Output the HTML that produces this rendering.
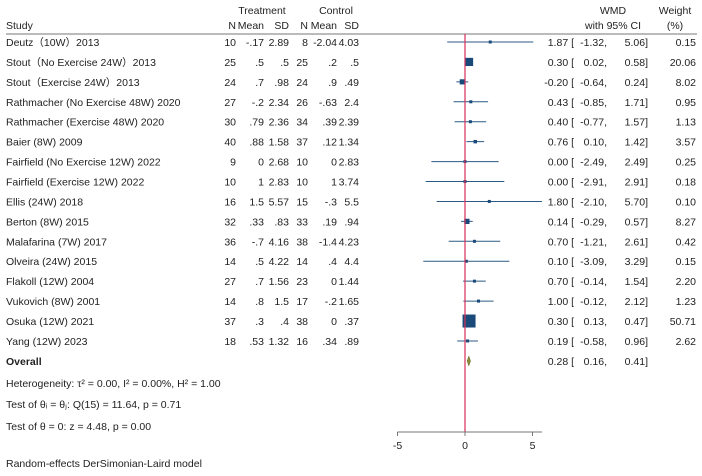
<!DOCTYPE html>
<html><head><meta charset="utf-8"><style>
body{margin:0;background:#fff;}
svg text{font-family:"Liberation Sans","Noto Sans CJK SC",sans-serif;font-size:10.5px;fill:#222;}
</style></head><body>
<svg id="plot" width="702" height="471" xmlns="http://www.w3.org/2000/svg">
<g>
<text x="262" y="14" text-anchor="middle">Treatment</text>
<text x="336" y="14" text-anchor="middle">Control</text>
<text x="6" y="29">Study</text>
<text x="236" y="29" text-anchor="end">N</text>
<text x="264" y="29" text-anchor="end">Mean</text>
<text x="289" y="29" text-anchor="end">SD</text>
<text x="308" y="29" text-anchor="end">N</text>
<text x="337" y="29" text-anchor="end">Mean</text>
<text x="359" y="29" text-anchor="end">SD</text>
<text x="613" y="14" text-anchor="middle">WMD</text>
<text x="613" y="29" text-anchor="middle">with 95% CI</text>
<text x="675" y="14" text-anchor="middle">Weight</text>
<text x="675" y="29" text-anchor="middle">(%)</text>
<line x1="6" y1="34" x2="697" y2="34" stroke="#777" stroke-width="1"/>
</g>
<g id="rows"></g>
<g>
<text x="6" y="365" style="font-weight:bold">Overall</text>
<text x="6" y="387">Heterogeneity: τ² = 0.00, I² = 0.00%, H² = 1.00</text>
<text x="6" y="408">Test of θᵢ = θⱼ: Q(15) = 11.64, p = 0.71</text>
<text x="6" y="430">Test of θ = 0: z = 4.48, p = 0.00</text>
<text x="6" y="467">Random-effects DerSimonian-Laird model</text>
</g>
</svg>
<script>
const studies=["Deutz（10W）2013","Stout（No Exercise 24W）2013","Stout（Exercise 24W）2013","Rathmacher (No Exercise 48W) 2020","Rathmacher (Exercise 48W) 2020","Baier (8W) 2009","Fairfield (No Exercise 12W) 2022","Fairfield (Exercise 12W) 2022","Ellis (24W) 2018","Berton (8W) 2015","Malafarina (7W) 2017","Olveira (24W) 2015","Flakoll (12W) 2004","Vukovich (8W) 2001","Osuka (12W) 2021","Yang (12W) 2023"];
const tN=["10","25","24","27","30","40","9","10","16","32","36","14","27","14","37","18"];
const tMean=["-.17",".5",".7","-.2",".79",".88","0","1","1.5",".33","-.7",".5",".7",".8",".3",".53"];
const tSD=["2.89",".5",".98","2.34","2.36","1.58","2.68","2.83","5.57",".83","4.16","4.22","1.56","1.5",".4","1.32"];
const cN=["8","25","24","26","34","37","10","10","15","33","38","14","23","17","38","16"];
const cMean=["-2.04",".2",".9","-.63",".39",".12","0","1","-.3",".19","-1.4",".4","0","-.2","0",".34"];
const cSD=["4.03",".5",".49","2.4","2.39","1.34","2.83","3.74","5.5",".94","4.23","4.4","1.44","1.65",".37",".89"];
const wmd=[1.87,0.30,-0.20,0.43,0.40,0.76,0.00,0.00,1.80,0.14,0.70,0.10,0.70,1.00,0.30,0.19];
const lo=[-1.32,0.02,-0.64,-0.85,-0.77,0.10,-2.49,-2.91,-2.10,-0.29,-1.21,-3.09,-0.14,-0.12,0.13,-0.58];
const hi=[5.06,0.58,0.24,1.71,1.57,1.42,2.49,2.91,5.70,0.57,2.61,3.29,1.54,2.12,0.47,0.96];
const weight=[0.15,20.06,8.02,0.95,1.13,3.57,0.25,0.18,0.10,8.27,0.42,0.15,2.20,1.23,50.71,2.62];
const overall=[0.28,0.16,0.41];
const ticks=[-5,0,5];
const NS="http://www.w3.org/2000/svg";
const X=v=>465+v*13.5;
const Y=i=>42+i*19.93;
const svg=document.getElementById('plot');
const g=document.getElementById('rows');
function mk(tag,attrs,parent){const e=document.createElementNS(NS,tag);for(const k in attrs)e.setAttribute(k,attrs[k]);(parent||g).appendChild(e);return e;}
function txt(x,y,s,anchor,parent){const e=mk('text',{x:x,y:y,'text-anchor':anchor||'start'},parent);e.textContent=s;return e;}
const f=v=>v.toFixed(2);
studies.forEach((s,i)=>{
  const y=Y(i);
  const row=mk('g',{});
  
  
  txt(6,y+4,s,'start',row);
  txt(236,y+4,tN[i],'end',row);txt(264,y+4,tMean[i],'end',row);txt(289,y+4,tSD[i],'end',row);
  txt(308,y+4,cN[i],'end',row);txt(337,y+4,cMean[i],'end',row);txt(359,y+4,cSD[i],'end',row);
  txt(574,y+4,f(wmd[i])+" [",'end',row);
  txt(607,y+4,f(lo[i])+",",'end',row);
  txt(648,y+4,f(hi[i])+"]",'end',row);
  txt(696,y+4,f(weight[i]),'end',row);
  const ci=mk('line',{x1:X(lo[i]),x2:X(hi[i]),y1:y,y2:y,stroke:'#2b5a85','stroke-width':1},row);
  
  
  const sz=Math.max(3,13*Math.sqrt(weight[i]/50.71));
  const sq=mk('rect',{x:X(wmd[i])-sz/2,y:y-sz/2,width:sz,height:sz,fill:'#1a4a7a'},row);
  
  
});
const rl=mk('line',{x1:X(0),x2:X(0),y1:34,y2:432,stroke:'#d9305a','stroke-width':1.2});


const oy=361;
const d=mk('polygon',{points:`${X(overall[1])},${oy} ${X(overall[0])},${oy-5} ${X(overall[2])},${oy} ${X(overall[0])},${oy+5}`,fill:'#8a8a3a',stroke:'#6b6b2a','stroke-width':0.5});


const ot=txt(574,oy+4,f(overall[0])+" [",'end');


txt(607,oy+4,f(overall[1])+",",'end');
txt(648,oy+4,f(overall[2])+"]",'end');
const ax=mk('g',{});


mk('line',{x1:X(-5),x2:542,y1:432,y2:432,stroke:'#777','stroke-width':1},ax);
ticks.forEach(t=>{
  mk('line',{x1:X(t),x2:X(t),y1:432,y2:436,stroke:'#777','stroke-width':1},ax);
  txt(X(t),449,String(t),'middle',ax);
});
</script>
</body></html>
